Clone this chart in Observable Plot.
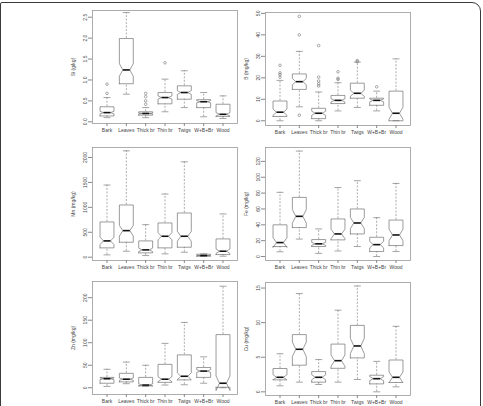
<!DOCTYPE html>
<html><head><meta charset="utf-8">
<script src="https://cdn.jsdelivr.net/npm/d3@7"></script>
<script src="https://cdn.jsdelivr.net/npm/@observablehq/plot@0.6"></script>
<style>
html,body{margin:0;padding:0;background:#fff;}
#fig{position:relative;width:483px;height:406px;overflow:hidden;background:#fff;}
#border{position:absolute;left:0;top:2px;width:481px;height:440px;border:1.5px solid #3a3a3a;border-radius:2px 9px 0 0;box-sizing:border-box;}
.panel{position:absolute;}
</style></head><body><div id="fig"><div id="border"></div></div>
<script>
const categories = ["Bark","Leaves","Thick br","Thin br","Twigs","W+B+Br","Wood"];

// Si (g/kg)
const siLow  = [0.10, 0.66, 0.10, 0.24, 0.34, 0.12, 0.08];
const siQ1   = [0.14, 0.91, 0.16, 0.43, 0.54, 0.34, 0.13];
const siMed  = [0.22, 1.24, 0.20, 0.58, 0.70, 0.48, 0.18];
const siQ3   = [0.36, 1.99, 0.24, 0.70, 0.86, 0.53, 0.42];
const siHigh = [0.58, 2.61, 0.34, 1.02, 1.22, 0.70, 0.62];
const siOut  = [{cat:"Bark",v:0.68},{cat:"Bark",v:0.90},{cat:"Thick br",v:0.42},{cat:"Thick br",v:0.50},{cat:"Thick br",v:0.60},{cat:"Thick br",v:0.68},{cat:"Thin br",v:1.41}];
const siTicks = [0, 0.5, 1, 1.5, 2, 2.5];

// B (mg/kg)
const bLow  = [0, 6.5, 0, 4.6, 6.2, 4.6, 0];
const bQ1   = [2, 14.6, 1, 8, 10.5, 7.2, 0];
const bMed  = [4, 18.2, 3.5, 9.5, 12.8, 9.5, 3.5];
const bQ3   = [9.2, 21.8, 5.8, 11.8, 17.5, 10.5, 13.8];
const bHigh = [18.8, 32.3, 13.4, 17.7, 27.3, 13.8, 28.8];
const bOut  = [{cat:"Bark",v:20.3},{cat:"Bark",v:21.5},{cat:"Bark",v:22.3},{cat:"Bark",v:25.8},
  {cat:"Leaves",v:2.6},{cat:"Leaves",v:40},{cat:"Leaves",v:48.6},
  {cat:"Thick br",v:16.2},{cat:"Thick br",v:17.2},{cat:"Thick br",v:18.5},{cat:"Thick br",v:20.3},{cat:"Thick br",v:35},
  {cat:"Thin br",v:19.2},{cat:"Thin br",v:19.8},{cat:"Thin br",v:22.8},
  {cat:"Twigs",v:27.6},{cat:"Twigs",v:28},{cat:"W+B+Br",v:15.8}];
const bTicks = [0, 10, 20, 30, 40, 50];

// Mn (mg/kg)
const mnLow  = [47, 120, 33, 67, 100, 20, 20];
const mnQ1   = [187, 300, 87, 187, 200, 20, 53];
const mnMed  = [327, 533, 147, 420, 420, 33, 120];
const mnQ3   = [707, 1047, 327, 687, 887, 60, 367];
const mnHigh = [1447, 2133, 653, 1267, 1913, 67, 867];
const mnOut  = [];
const mnTicks = [0, 500, 1000, 1500, 2000];

// Fe (mg/kg)
const feLow  = [6, 22, 4, 7, 12.6, 0, 6.3];
const feQ1   = [12.6, 36.5, 12.6, 21, 28.5, 6.3, 13.8];
const feMed  = [17.6, 50.7, 16, 28.5, 42.3, 15, 27.2];
const feQ3   = [40, 74.6, 21.4, 47.4, 60, 24.3, 46];
const feHigh = [81, 133, 34.8, 87, 95.6, 49, 92.2];
const feOut  = [];
const feTicks = [0, 20, 40, 60, 80, 100, 120];

// Zn (mg/kg)
const znLow  = [3, 9, 3, 6, 6.6, 10, 0];
const znQ1   = [10, 13, 4.4, 12, 17.5, 23, 1];
const znMed  = [20, 19, 6, 19, 25.5, 37, 10];
const znQ3   = [23, 32, 23, 52, 73, 45, 118];
const znHigh = [41, 57, 50, 98.5, 145, 68.6, 225.5];
const znOut  = [];
const znTicks = [0, 50, 100, 150, 200];

// Cu (mg/kg)
const cuLow  = [0.87, 1.4, 1.06, 1.4, 1.78, 0, 0.72];
const cuQ1   = [1.73, 3.85, 1.4, 3.4, 4.9, 1.15, 1.35];
const cuMed  = [2.1, 6.15, 2.1, 4.5, 6.63, 1.9, 2.1];
const cuQ3   = [3.37, 8.27, 2.93, 6.9, 9.6, 2.4, 4.6];
const cuHigh = [5.5, 14.2, 4.66, 11.8, 15.3, 4.4, 9.47];
const cuOut  = [];
const cuTicks = [0, 5, 10, 15];

// estimated group sizes per panel (for notch width, as in R)
const groupSize = {si: 130, b: 60, mn: 120, fe: 50, zn: 130, cu: 45};

const panels = [
  {label:"Si (g/kg)", low:siLow,q1:siQ1,med:siMed,q3:siQ3,high:siHigh,out:siOut,ticks:siTicks,fmt:d3.format(".1f"),n:groupSize.si,domain:[-0.04,2.66],left:92,top:10},
  {label:"B (mg/kg)", low:bLow,q1:bQ1,med:bMed,q3:bQ3,high:bHigh,out:bOut,ticks:bTicks,fmt:d3.format("d"),n:groupSize.b,domain:[-2.2,50.4],left:265,top:12},
  {label:"Mn (mg/kg)", low:mnLow,q1:mnQ1,med:mnMed,q3:mnQ3,high:mnHigh,out:mnOut,ticks:mnTicks,fmt:d3.format("d"),n:groupSize.mn,domain:[-66,2200],left:92,top:147},
  {label:"Fe (mg/kg)", low:feLow,q1:feQ1,med:feMed,q3:feQ3,high:feHigh,out:feOut,ticks:feTicks,fmt:d3.format("d"),n:groupSize.fe,domain:[-5,137.5],left:265,top:147},
  {label:"Zn (mg/kg)", low:znLow,q1:znQ1,med:znMed,q3:znQ3,high:znHigh,out:znOut,ticks:znTicks,fmt:d3.format("d"),n:groupSize.zn,domain:[-15,236],left:92,top:281},
  {label:"Cu (mg/kg)", low:cuLow,q1:cuQ1,med:cuMed,q3:cuQ3,high:cuHigh,out:cuOut,ticks:cuTicks,fmt:d3.format("d"),n:groupSize.cu,domain:[-0.53,15.8],left:265,top:282}
];

const ML = 40, MR = 5, MT = 4, MB = 18, PW = 145, PH = 113;
const W = 0.36, NF = 0.5, SW = 0.18;
const lineCol = "#666", txtCol = "#444";

function makePanel(p) {
  const rows = categories.map((c, k) => {
    const iqr = p.q3[k] - p.q1[k];
    const h = 1.58 * iqr / Math.sqrt(p.n);
    return {i: k + 1, low: p.low[k], q1: p.q1[k], med: p.med[k], q3: p.q3[k], high: p.high[k], nlo: p.med[k] - h, nhi: p.med[k] + h};
  });
  const xs = [-1, 1, 1, NF, 1, 1, -1, -1, -NF, -1, -1];
  const poly = rows.flatMap(r => {
    const ys = [r.q1, r.q1, r.nlo, r.med, r.nhi, r.q3, r.q3, r.nhi, r.med, r.nlo, r.q1];
    return xs.map((dx, j) => ({i: r.i, x: r.i + dx * W, y: ys[j]}));
  });
  const outs = p.out.map(d => ({x: categories.indexOf(d.cat) + 1, v: d.v}));
  const svg = Plot.plot({
    width: ML + PW + MR, height: MT + PH + MB,
    marginLeft: ML, marginRight: MR, marginTop: MT, marginBottom: MB,
    x: {type: "linear", domain: [0.25, 7.75], axis: null},
    y: {domain: p.domain, axis: null},
    style: {fontFamily: "'Liberation Sans', Arial, sans-serif", fontSize: "5px", color: txtCol, background: "transparent", overflow: "visible"},
    marks: [
      Plot.frame({stroke: "#999", strokeWidth: 0.8}),
      Plot.ruleX(rows, {x: "i", y1: "q3", y2: "high", stroke: lineCol, strokeWidth: 0.55, strokeDasharray: "2,1.5"}),
      Plot.ruleX(rows, {x: "i", y1: "low", y2: "q1", stroke: lineCol, strokeWidth: 0.55, strokeDasharray: "2,1.5"}),
      Plot.link(rows, {x1: r => r.i - SW, x2: r => r.i + SW, y1: "high", y2: "high", stroke: lineCol, strokeWidth: 0.6}),
      Plot.link(rows, {x1: r => r.i - SW, x2: r => r.i + SW, y1: "low", y2: "low", stroke: lineCol, strokeWidth: 0.6}),
      Plot.line(poly, {x: "x", y: "y", z: "i", stroke: lineCol, strokeWidth: 0.65}),
      Plot.link(rows, {x1: r => r.i - W * NF, x2: r => r.i + W * NF, y1: "med", y2: "med", stroke: "#111", strokeWidth: 1.6}),
      Plot.dot(outs, {x: "x", y: "v", r: 1.3, stroke: lineCol, fill: "none", strokeWidth: 0.55}),
      Plot.axisX({ticks: [1,2,3,4,5,6,7], tickFormat: d => categories[d - 1], tickSize: 3, tickPadding: 1.5, fontSize: 5, stroke: "#888", label: null}),
      Plot.axisY({ticks: p.ticks, tickFormat: p.fmt, tickRotate: -90, tickSize: 4, tickPadding: 2, fontSize: 5, stroke: "#888", label: p.label, labelAnchor: "center", labelArrow: "none", labelOffset: 21})
    ]
  });
  svg.classList.add("panel");
  svg.style.left = (p.left - ML) + "px";
  svg.style.top = (p.top - MT) + "px";
  return svg;
}

const fig = document.getElementById("fig");
panels.forEach(p => fig.appendChild(makePanel(p)));
</script>
</body></html>
